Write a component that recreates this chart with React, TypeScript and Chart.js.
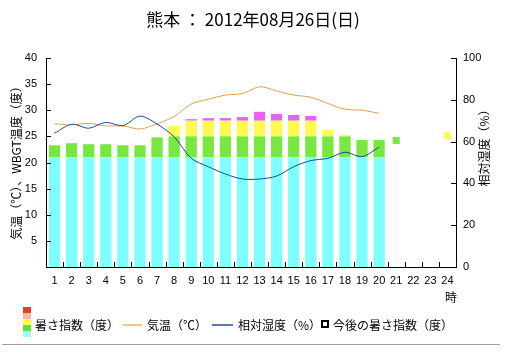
import React, { useEffect, useRef } from 'react';
import { Chart, registerables } from 'chart.js';

Chart.register(...registerables);

const hours = ['1','2','3','4','5','6','7','8','9','10','11','12','13','14','15','16','17','18','19','20','21','22','23','24'];
const wbgt = [23.3, 23.7, 23.5, 23.5, 23.3, 23.3, 24.8, 27.0, 28.3, 28.5, 28.5, 28.7, 29.7, 29.3, 29.1, 28.9, 26.2, 25.3, 24.3, 24.3, null, null, null, null];
const wbgtForecast = [null, null, null, null, null, null, null, null, null, null, null, null, null, null, null, null, null, null, null, null, 24.2, null, null, 25.1];
const temperature = [27.4, 27.2, 27.5, 27.0, 27.0, 26.4, 27.4, 28.8, 31.2, 32.1, 32.9, 33.2, 34.5, 33.7, 32.9, 32.5, 31.3, 30.2, 30.0, 29.4, null, null, null, null];
const humidity = [64.0, 68.3, 66.4, 69.2, 67.6, 72.2, 68.4, 62.3, 52.0, 48.0, 44.5, 42.1, 42.1, 43.5, 48.0, 50.9, 52.0, 54.9, 52.8, 57.3, null, null, null, null];
const levelBounds = [0, 21, 25, 28, 31, 60];
const levelColors = ['#80FFFF', '#78E840', '#FFF850', '#E664F0', '#E04030'];
const leftTicks = [5, 10, 15, 20, 25, 30, 35, 40];
const rightTicks = [0, 20, 40, 60, 80, 100];

const title = '熊本 ： 2012年08月26日(日)';
const leftTitle = '気温（℃）、WBGT温度（度）';
const rightTitle = '相対湿度（%）';
const xTitle = '時';
const legendLabels = ['暑さ指数（度）', '気温（℃）', '相対湿度（%）', '今後の暑さ指数（度）'];

const CJK = '"Noto Sans CJK JP", "Noto Sans", sans-serif';
const NUM = '"Liberation Sans", Arial, sans-serif';

function levelColor(v: number) {
  for (let i = 0; i < levelColors.length; i++) {
    if (v < levelBounds[i + 1]) return levelColors[i];
  }
  return levelColors[levelColors.length - 1];
}

const decor = {
  id: 'decor',
  afterDraw(chart: any) {
    const ctx = chart.ctx as CanvasRenderingContext2D;
    const area = chart.chartArea;
    const y = chart.scales.y;
    const yR = chart.scales.yR;
    ctx.save();
    ctx.strokeStyle = '#000';
    ctx.lineWidth = 1;
    ctx.beginPath();
    for (const t of leftTicks) {
      const py = Math.round(y.getPixelForValue(t)) + 0.5;
      ctx.moveTo(area.left, py);
      ctx.lineTo(area.left + 5, py);
    }
    for (const t of rightTicks) {
      const py = Math.round(yR.getPixelForValue(t)) + 0.5;
      ctx.moveTo(area.right, py);
      ctx.lineTo(area.right - 5, py);
    }
    const w = (area.right - area.left) / hours.length;
    for (let k = 1; k < hours.length; k++) {
      const px = Math.round(area.left + k * w) + 0.5;
      ctx.moveTo(px, area.bottom);
      ctx.lineTo(px, area.bottom - 5);
    }
    ctx.stroke();

    ctx.fillStyle = '#000';
    ctx.textAlign = 'center';
    ctx.textBaseline = 'middle';
    ctx.font = `17px ${CJK}`;
    ctx.fillText(title, 253, 20);

    ctx.font = `12px ${CJK}`;
    ctx.save();
    ctx.translate(16, 160);
    ctx.rotate(-Math.PI / 2);
    ctx.fillText(leftTitle, 0, 0);
    ctx.restore();
    ctx.save();
    ctx.translate(484, 145);
    ctx.rotate(-Math.PI / 2);
    ctx.fillText(rightTitle, 0, 0);
    ctx.restore();

    ctx.fillText(xTitle, 451, 297);

    const chip = ['#E04030', '#F8B8A0', '#FFFF40', '#60E040', '#A0F8F8'];
    chip.forEach((c, i) => {
      ctx.fillStyle = c;
      ctx.fillRect(23, 307 + i * 6, 8, 6);
    });
    const ly = 325;
    ctx.fillStyle = '#000';
    ctx.textAlign = 'left';
    ctx.fillText(legendLabels[0], 35, ly);
    ctx.strokeStyle = '#F0C878';
    ctx.lineWidth = 2;
    ctx.beginPath();
    ctx.moveTo(123, ly);
    ctx.lineTo(142, ly);
    ctx.stroke();
    ctx.fillText(legendLabels[1], 147, ly);
    ctx.strokeStyle = '#5A7AAE';
    ctx.beginPath();
    ctx.moveTo(212, ly);
    ctx.lineTo(233, ly);
    ctx.stroke();
    ctx.fillText(legendLabels[2], 238, ly);
    ctx.strokeStyle = '#000';
    ctx.lineWidth = 2;
    ctx.strokeRect(322, ly - 4, 6, 6);
    ctx.fillText(legendLabels[3], 333, ly);

    ctx.strokeStyle = '#A0A0A0';
    ctx.lineWidth = 1;
    ctx.beginPath();
    ctx.moveTo(2, 344.5);
    ctx.lineTo(500, 344.5);
    ctx.stroke();
    ctx.restore();
  },
};

export default function App() {
  const ref = useRef<HTMLCanvasElement | null>(null);
  useEffect(() => {
    if (!ref.current) return;
    const barSets = levelColors.map((c, i) => ({
      type: 'bar' as const,
      label: 'wbgt' + i,
      data: wbgt.map((v) => (v == null ? null : Math.max(0, Math.min(v, levelBounds[i + 1]) - levelBounds[i]))),
      backgroundColor: c,
      borderWidth: 0,
      stack: 'wbgt',
      yAxisID: 'y',
      order: 2,
      categoryPercentage: 1,
      barPercentage: 0.66,
    }));
    const chart = new Chart(ref.current, {
      type: 'bar',
      data: {
        labels: hours,
        datasets: [
          ...barSets,
          {
            type: 'line',
            label: 'temp',
            data: temperature,
            borderColor: '#DDA050',
            borderWidth: 1,
            pointRadius: 0,
            tension: 0.3,
            stack: 'temp',
            yAxisID: 'y',
            order: 1,
          } as any,
          {
            type: 'line',
            label: 'hum',
            data: humidity,
            borderColor: '#1448A8',
            borderWidth: 1,
            pointRadius: 0,
            tension: 0.3,
            stack: 'hum',
            yAxisID: 'yR',
            order: 0,
          } as any,
          {
            type: 'line',
            label: 'forecast',
            data: wbgtForecast,
            showLine: false,
            pointStyle: 'rect',
            pointRadius: 5,
            pointBorderWidth: 0,
            pointBackgroundColor: wbgtForecast.map((v) => (v == null ? 'transparent' : levelColor(v))),
            stack: 'fc',
            yAxisID: 'y',
            order: 0,
          } as any,
        ],
      },
      options: {
        responsive: false,
        animation: false,
        events: [],
        layout: { padding: { top: 58, left: 0, right: 0, bottom: 68 } },
        plugins: { legend: { display: false }, tooltip: { enabled: false }, title: { display: false } },
        scales: {
          x: {
            stacked: true,
            grid: { display: false, drawTicks: false },
            border: { display: true, color: '#000', width: 1 },
            ticks: { color: '#000', font: { family: NUM, size: 11 }, padding: 7, maxRotation: 0, autoSkip: false },
            afterFit: (s: any) => { s.height = 20; },
          },
          y: {
            position: 'left',
            stacked: true,
            min: 0,
            max: 40,
            grid: { display: false, drawTicks: false },
            border: { display: true, color: '#000', width: 1 },
            ticks: {
              stepSize: 5,
              color: '#000',
              font: { family: NUM, size: 11 },
              padding: 9,
              callback: (v: any) => (v === 0 ? '' : String(v)),
            },
            afterFit: (s: any) => { s.width = 46; },
          },
          yR: {
            position: 'right',
            min: 0,
            max: 100,
            grid: { display: false, drawTicks: false },
            border: { display: true, color: '#000', width: 1 },
            ticks: { stepSize: 20, color: '#000', font: { family: NUM, size: 11 }, padding: 7 },
            afterFit: (s: any) => { s.width = 50; },
          },
        },
      } as any,
      plugins: [decor],
    });
    return () => chart.destroy();
  }, []);
  return (
    <div style={{ position: 'absolute', left: 0, top: 0, width: 506, height: 355, background: '#fff' }}>
      <canvas ref={ref} width={506} height={355} style={{ width: 506, height: 355, display: 'block' }} />
    </div>
  );
}
